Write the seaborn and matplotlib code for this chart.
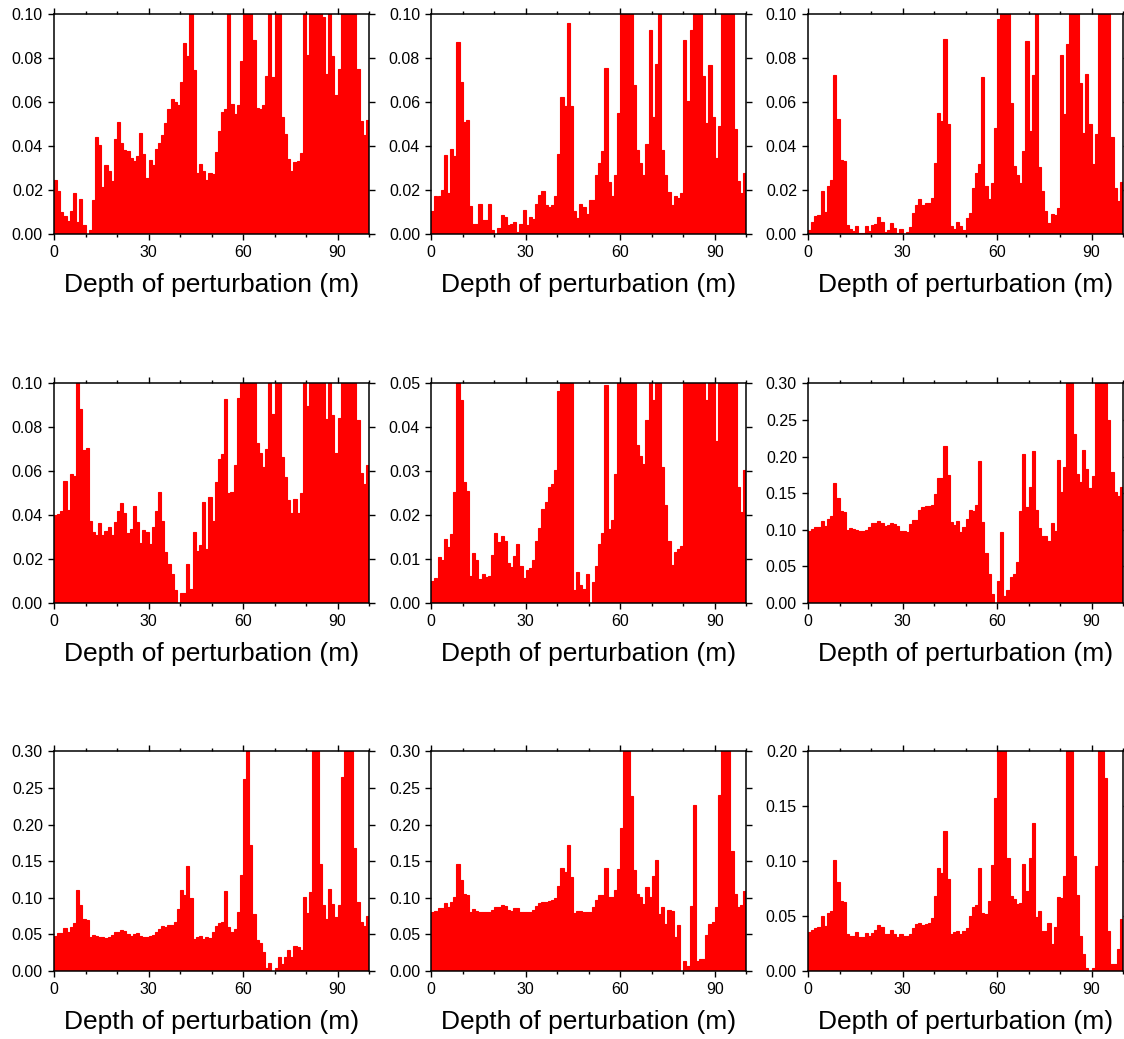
import numpy as np
import pandas as pd
import matplotlib
matplotlib.use("Agg")
import matplotlib.pyplot as plt
import seaborn as sns
from matplotlib.ticker import MultipleLocator, FormatStrFormatter

sns.set_style("ticks")
plt.rcParams["font.family"] = ["Liberation Sans", "DejaVu Sans"]
for key in ["text.color", "axes.labelcolor", "xtick.color", "ytick.color", "axes.edgecolor"]:
    plt.rcParams[key] = "black"

# 1 m depth bins from 0 to 100 m
bin_centers = np.arange(100) + 0.5

# Bin heights in units of 1e-3; bins running past the top of an axis are kept above its limit
hist_a = [24.6, 19.6, 10.0, 8.2, 5.9, 10.5, 18.7, 5.5, 15.9, 4.1,
          0.2, 1.8, 15.5, 44.2, 40.5, 21.4, 31.4, 28.8, 24.3, 43.2,
          51.0, 41.6, 38.2, 37.9, 34.6, 33.4, 35.5, 46.0, 36.4, 25.6,
          33.7, 31.4, 38.7, 41.6, 45.1, 50.5, 56.9, 61.5, 60.1, 58.7,
          69.2, 86.9, 81.0, 125, 74.7, 27.8, 31.9, 28.7, 24.7, 27.8,
          27.3, 37.3, 46.9, 55.5, 56.9, 125, 59.2, 54.6, 58.7, 78.8,
          125, 125, 125, 88.3, 57.4, 56.9, 58.7, 71.9, 125, 71.5,
          125, 125, 53.2, 45.5, 34.1, 28.7, 32.8, 33.2, 36.9, 125,
          81.5, 125, 125, 125, 125, 98.8, 72.8, 125, 81.0, 63.2,
          75.1, 125, 125, 125, 125, 125, 75.1, 51.4, 44.9, 52.1]

hist_b = [10.5, 17.3, 17.3, 20.0, 36.0, 18.7, 38.7, 35.5, 87.4, 69.2,
          51.0, 51.9, 12.7, 4.6, 4.6, 13.7, 6.4, 6.4, 13.7, 1.8,
          0.2, 2.7, 8.6, 7.7, 4.1, 4.6, 5.5, 0.9, 4.6, 10.9,
          4.1, 7.7, 6.8, 13.7, 17.8, 19.6, 13.2, 12.3, 13.2, 17.3,
          36.4, 62.4, 58.3, 96.1, 58.3, 10.5, 7.3, 13.7, 12.3, 9.1,
          15.5, 15.5, 26.9, 32.3, 37.8, 75.6, 23.7, 17.3, 26.9, 55.1,
          125, 125, 125, 125, 67.8, 38.2, 32.3, 26.9, 41.0, 92.9,
          53.3, 77.4, 125, 38.2, 26.9, 19.1, 13.2, 17.3, 16.4, 18.7,
          88.3, 60.5, 92.9, 125, 125, 125, 71.9, 50.5, 76.9, 53.3,
          34.6, 49.2, 125, 125, 125, 125, 47.8, 24.1, 18.7, 27.8]

hist_c = [1.8, 5.5, 8.2, 8.6, 19.6, 10.0, 21.9, 24.6, 72.4, 52.4,
          33.7, 33.2, 4.1, 2.3, 1.4, 3.6, 0.5, 0.5, 3.6, 1.4,
          4.1, 4.6, 7.7, 5.5, 0.9, 1.8, 5.0, 2.7, 0.5, 2.3,
          0.2, 0.9, 3.2, 9.6, 13.2, 15.9, 13.2, 14.1, 14.1, 16.4,
          32.3, 55.1, 51.4, 88.8, 50.1, 3.6, 2.3, 5.5, 3.6, 1.8,
          7.3, 9.6, 20.9, 27.8, 31.9, 71.5, 21.9, 15.9, 23.2, 48.2,
          97.9, 125, 125, 125, 59.6, 30.9, 26.9, 23.2, 37.8, 87.9,
          46.9, 72.4, 125, 30.5, 19.6, 10.3, 5.0, 9.1, 8.6, 11.7,
          81.5, 54.6, 86.5, 125, 125, 125, 68.7, 45.9, 72.8, 50.1,
          31.9, 45.5, 125, 125, 125, 125, 44.1, 20.9, 15.0, 23.7]

hist_d = [40.1, 40.5, 41.9, 55.5, 42.3, 58.7, 57.8, 125, 88.3, 69.7,
          70.6, 37.3, 32.3, 31.0, 36.4, 31.0, 32.8, 34.6, 31.0, 36.9,
          41.9, 45.5, 41.0, 31.9, 33.7, 44.2, 36.9, 27.3, 33.2, 32.3,
          26.9, 34.6, 41.9, 50.5, 37.3, 23.2, 17.8, 13.2, 5.9, 0.0,
          4.6, 4.6, 17.8, 6.4, 32.3, 23.7, 26.4, 46.0, 24.6, 48.3,
          37.3, 55.1, 65.6, 67.8, 92.9, 50.1, 50.5, 62.8, 93.3, 125,
          125, 125, 125, 125, 72.8, 68.3, 61.9, 70.1, 125, 86.0,
          125, 125, 66.5, 57.4, 46.9, 41.0, 47.3, 41.0, 50.1, 125,
          89.7, 125, 125, 125, 125, 125, 83.8, 125, 85.6, 68.3,
          84.2, 125, 125, 125, 125, 125, 83.3, 59.2, 54.2, 62.8]

hist_e = [5.0, 5.7, 10.5, 9.8, 14.6, 12.7, 15.7, 25.3, 62, 46.2,
          27.5, 25.5, 6.1, 11.4, 9.8, 5.5, 6.6, 5.9, 6.1, 10.9,
          15.9, 13.9, 15.3, 14.1, 9.1, 8.2, 10.7, 13.4, 8.4, 5.7,
          7.5, 8.0, 9.8, 14.1, 17.1, 21.4, 23.0, 26.4, 27.1, 30.3,
          48.3, 62, 62, 62, 62, 3.0, 7.1, 4.1, 3.2, 6.6,
          0.0, 4.8, 8.4, 13.4, 15.9, 49.6, 16.8, 18.9, 29.4, 62,
          62, 62, 62, 62, 62, 36.0, 33.5, 31.6, 41.7, 62,
          46.2, 62, 62, 31.0, 22.3, 14.1, 8.6, 11.6, 12.3, 13.0,
          62, 62, 62, 62, 62, 62, 62, 46.2, 62, 62,
          36.9, 62, 62, 62, 62, 62, 62, 26.4, 20.7, 30.3]

hist_f = [98.3, 101.1, 103.8, 103.8, 112.0, 105.2, 114.7, 118.8, 163.9, 143.4,
          125.6, 124.3, 99.7, 102.4, 101.1, 99.7, 98.3, 98.3, 99.7, 103.8,
          109.2, 109.2, 112.0, 109.2, 105.2, 106.5, 109.2, 107.9, 105.2, 98.3,
          98.3, 97.0, 107.9, 113.3, 113.3, 127.0, 131.1, 132.5, 132.5, 133.8,
          148.8, 170.7, 170.7, 214.4, 174.8, 110.6, 106.5, 112.0, 97.0, 103.8,
          114.7, 127.0, 125.6, 133.8, 193.9, 110.6, 68.3, 39.6, 12.3, 0.0,
          30.0, 97.0, 9.6, 17.8, 35.5, 39.6, 56.0, 125.6, 203.5, 131.1,
          158.4, 207.6, 127.0, 102.4, 91.5, 91.5, 84.7, 109.2, 98.3, 195.3,
          151.6, 185.7, 360, 360, 230.8, 176.2, 165.2, 208.9, 183.0, 157.0,
          173.4, 360, 360, 360, 360, 249.9, 178.9, 151.6, 146.1, 158.4]

hist_g = [47.8, 51.9, 51.9, 58.7, 53.3, 60.1, 65.5, 110.6, 90.1, 71.0,
          69.6, 46.4, 49.2, 47.8, 46.4, 46.4, 45.1, 46.4, 49.2, 53.3,
          53.3, 56.0, 54.6, 50.5, 47.8, 50.5, 51.9, 47.8, 46.4, 46.4,
          47.8, 49.2, 53.3, 57.4, 61.5, 60.1, 62.8, 62.8, 66.9, 84.7,
          110.6, 103.8, 143.4, 99.7, 43.7, 46.4, 47.8, 43.7, 46.4, 45.1,
          53.3, 61.5, 65.5, 66.9, 109.2, 60.1, 53.3, 57.4, 80.6, 131.1,
          262.2, 360, 172.1, 77.8, 42.3, 38.2, 25.9, 4.1, 10.9, 0.0,
          4.1, 19.1, 9.6, 19.1, 28.7, 19.1, 34.1, 32.8, 28.7, 101.1,
          79.2, 107.9, 360, 360, 146.1, 90.1, 71.0, 112.0, 91.5, 73.7,
          90.1, 264.9, 360, 360, 360, 168.0, 94.2, 66.9, 61.5, 75.1]

hist_h = [80.6, 81.9, 86.0, 86.0, 92.9, 87.4, 94.2, 101.1, 146.1, 124.3,
          105.2, 103.8, 80.6, 84.7, 81.9, 80.6, 80.6, 80.6, 80.6, 83.3,
          87.4, 87.4, 90.1, 88.8, 83.3, 81.9, 86.0, 86.0, 80.6, 80.6,
          80.6, 80.6, 83.3, 88.8, 92.9, 94.2, 94.2, 95.6, 97.0, 99.7,
          116.1, 140.7, 135.2, 172.1, 128.4, 79.2, 81.9, 81.9, 80.6, 80.6,
          80.6, 87.4, 97.0, 103.8, 103.8, 140.7, 101.1, 101.1, 110.6, 139.3,
          195.3, 360, 360, 239.0, 137.9, 105.2, 101.1, 91.5, 114.7, 101.1,
          129.7, 151.6, 77.8, 87.4, 64.2, 83.3, 81.9, 46.4, 62.8, 0.0,
          13.7, 6.8, 88.8, 226.7, 13.7, 16.4, 16.4, 49.2, 64.2, 66.9,
          87.4, 240.3, 360, 360, 360, 163.9, 105.2, 87.4, 90.1, 109.2]

hist_i = [35.5, 37.3, 39.2, 40.1, 50.1, 41.0, 52.8, 54.6, 101.1, 81.0,
          63.7, 62.8, 33.7, 31.9, 31.9, 35.5, 31.0, 31.0, 34.6, 31.9,
          34.6, 37.3, 41.9, 40.1, 33.7, 33.7, 37.3, 33.7, 31.0, 33.7,
          31.9, 31.9, 33.7, 39.2, 42.8, 43.7, 41.9, 42.8, 43.7, 48.3,
          68.3, 93.8, 89.2, 127.5, 83.8, 33.7, 35.5, 36.4, 33.7, 36.4,
          39.2, 50.1, 58.3, 60.1, 93.8, 52.8, 51.9, 63.7, 96.5, 157.5,
          240, 240, 240, 102.9, 68.3, 65.6, 61.0, 61.9, 97.4, 72.8,
          102.9, 134.8, 49.2, 54.6, 36.4, 36.4, 43.7, 24.6, 40.1, 67.4,
          66.5, 86.5, 240, 240, 104.7, 69.2, 31.9, 15.5, 2.7, 0.0,
          2.7, 95.6, 240, 240, 175.7, 36.4, 6.4, 6.4, 20.0, 47.3]

# Upper y limit and y tick spacing of each panel (row by row)
y_tops = [0.10, 0.10, 0.10, 0.10, 0.05, 0.30, 0.30, 0.30, 0.20]
y_steps = [0.02, 0.02, 0.02, 0.02, 0.01, 0.05, 0.05, 0.05, 0.05]
panel_hists = [hist_a, hist_b, hist_c, hist_d, hist_e, hist_f, hist_g, hist_h, hist_i]

W, H = 1124, 1039
fig = plt.figure(figsize=(W / 100, H / 100), dpi=100)
col_left = [54, 431.2, 808]
row_top = [14.3, 383.3, 751.3]
ax_w, ax_h = 315, 219.7

for i, (vals, ytop, ystep) in enumerate(zip(panel_hists, y_tops, y_steps)):
    r, c = divmod(i, 3)
    ax = fig.add_axes([col_left[c] / W, 1 - (row_top[r] + ax_h) / H, ax_w / W, ax_h / H])
    df = pd.DataFrame({"depth": bin_centers, "density": np.asarray(vals, dtype=float) / 1000.0})
    # an outline in the fill colour closes hairline gaps between neighbouring bins
    sns.histplot(data=df, x="depth", weights="density", binwidth=1, binrange=(0, 100),
                 color="#ff0000", alpha=1.0, edgecolor="#ff0000", linewidth=0.8, ax=ax)
    ax.set_xlim(0, 100)
    ax.set_ylim(0, ytop)
    ax.xaxis.set_major_locator(MultipleLocator(30))
    ax.xaxis.set_minor_locator(MultipleLocator(10))
    ax.yaxis.set_major_locator(MultipleLocator(ystep))
    ax.yaxis.set_major_formatter(FormatStrFormatter("%.2f"))
    ax.tick_params(which="both", direction="out", top=True, right=True,
                   width=1.0, colors="black", labelsize=11.5, pad=4)
    ax.tick_params(which="major", length=4)
    ax.tick_params(which="minor", length=2)
    for sp in ax.spines.values():
        sp.set_visible(True)
        sp.set_linewidth(1.1)
        sp.set_color("black")
        sp.set_zorder(5)
    ax.set_ylabel("")
    ax.set_xlabel("Depth of perturbation (m)", fontsize=19, labelpad=9)

fig.savefig("out.png", dpi=100)
